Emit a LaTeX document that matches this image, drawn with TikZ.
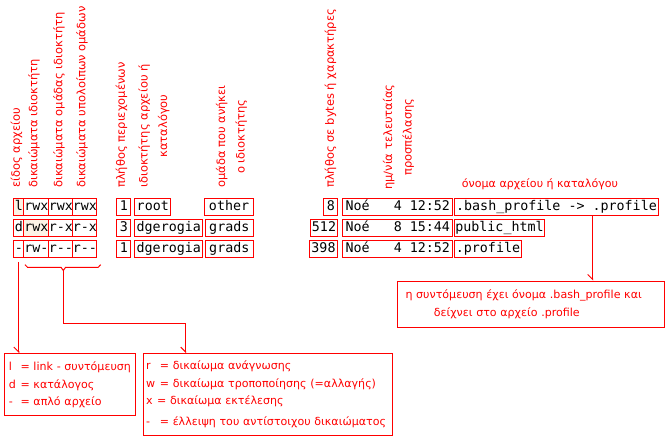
\documentclass[tikz,border=0pt]{standalone}
\usepackage{fontspec}
\setmainfont{DejaVu Sans}
\setmonofont{DejaVu Sans Mono}
\usetikzlibrary{arrows.meta,calc}
\definecolor{lr}{RGB}{255,0,0}
\definecolor{beige}{RGB}{253,243,230}
\begin{document}
\begin{tikzpicture}[x=0.75pt,y=-0.75pt,
 cell/.style={draw=lr, line width=0.75pt, font=\ttfamily\fontsize{10}{12}\selectfont, inner sep=0pt, minimum height=17*0.75pt, text height=7.3pt, text depth=2pt, anchor=west},
 cw/.style={minimum width=#1*0.75pt},
 vlab/.style={rotate=90, anchor=west, inner sep=0pt, text=lr, font=\fontsize{8.6}{14.6}\selectfont, align=center},
 legend/.style={draw=lr, line width=0.75pt, text=lr, font=\fontsize{8.3}{13.1}\selectfont, align=left, anchor=north west, inner ysep=0pt},
 conn/.style={draw=lr, line width=0.75pt, -{Straight Barb[harpoon, swap, length=3.75pt, width=7.5pt, line width=0.75pt]}},
 brk/.style={draw=lr, line width=0.75pt}
]
\useasboundingbox (0,0) rectangle (669,441);
% vertical headers
\node[vlab] (h1) at (16.5,188) {είδος αρχείου};
\node[vlab] (h2) at (34,188) {δικαιώματα ιδιοκτήτη};
\node[vlab] (h3) at (59,188) {δικαιώματα ομάδας ιδιοκτήτη};
\node[vlab] (h4) at (82,188) {δικαιώματα υπολοίπων ομάδων};
\node[vlab] (h5) at (121.5,188) {πλήθος περιεχομένων};
\node[vlab] (h6) at (154,188) {ιδιοκτήτης αρχείου ή\\καταλόγου};
\node[vlab] (h7) at (231.5,188) {ομάδα που ανήκει\\ο ιδιοκτήτης};
\node[vlab] (h8) at (330.5,188) {πλήθος σε bytes ή χαρακτήρες};
\node[vlab] (h9) at (398.5,190) {ημ/νία τελευταίας\\προσπέλασης};
\node[anchor=west, inner sep=0pt, text=lr, font=\fontsize{8.3}{10}\selectfont] (h10) at (461.7,184) {όνομα αρχείου ή καταλόγου};
% row 1
\node[cell,cw=10,fill=beige] (t1) at (13.3,207) {l};
\node[cell,cw=25] (o1) at (23.3,207) {rwx};
\node[cell,cw=24] (g1) at (48.3,207) {rwx};
\node[cell,cw=24] (e1) at (72.3,207) {rwx};
\node[cell,cw=14] (k1) at (116.3,207) {1};
\node[cell,cw=36] (u1) at (134.3,207) {root};
\node[cell,cw=48.5] (gr1) at (204.3,207) {other};
\node[cell,cw=14] (s1) at (323.3,207) {8};
\node[cell,cw=110] (d1) at (342.3,207) {Noé~~~4 12:52};
\node[cell,cw=204] (n1) at (454,207) {.bash\_profile -> .profile};
% row 2
\node[cell,cw=10] (t2) at (13.3,228) {d};
\node[cell,cw=25,fill=beige] (o2) at (23.3,228) {rwx};
\node[cell,cw=24] (g2) at (48.3,228) {r-x};
\node[cell,cw=24] (e2) at (72.3,228) {r-x};
\node[cell,cw=14] (k2) at (116.3,228) {3};
\node[cell,cw=68] (u2) at (134.3,228) {dgerogia};
\node[cell,cw=48] (gr2) at (204.8,228) {grads};
\node[cell,cw=27] (s2) at (310,228) {512};
\node[cell,cw=110] (d2) at (342.3,228) {Noé~~~8 15:44};
\node[cell,cw=90] (n2) at (454,228) {public\_html};
% row 3
\node[cell,cw=10] (t3) at (13.3,248.7) {-};
\node[cell,cw=25] (o3) at (23.3,248.7) {rw-};
\node[cell,cw=24] (g3) at (48.3,248.7) {r-\kern0pt-};
\node[cell,cw=24] (e3) at (72.3,248.7) {r-\kern0pt-};
\node[cell,cw=14] (k3) at (116.3,248.7) {1};
\node[cell,cw=68] (u3) at (134.3,248.7) {dgerogia};
\node[cell,cw=48] (gr3) at (204.8,248.7) {grads};
\node[cell,cw=28] (s3) at (309,248.7) {398};
\node[cell,cw=110] (d3) at (342.3,248.7) {Noé~~~4 12:52};
\node[cell,cw=67] (n3) at (454,248.7) {.profile};
% legend boxes
\node[legend, inner xsep=4*0.75pt, text width=123*0.75pt, minimum height=62*0.75pt] (b1) at (4.3,353.3)
 {\mbox{\makebox[8.8pt][l]{l}= link - συντόμευση}\\\mbox{\makebox[8.8pt][l]{d}= κατάλογος}\\\mbox{\makebox[8.8pt][l]{-}= απλό αρχείο}};
\node[legend, inner xsep=3*0.75pt, text width=243.6*0.75pt, minimum height=81.7*0.75pt] (b2) at (142.7,353.3)
 {\mbox{\makebox[10.2pt][l]{r}= δικαίωμα ανάγνωσης}\\\mbox{\makebox[10.2pt][l]{w}= δικαίωμα τροποποίησης (=αλλαγής)}\\\mbox{\makebox[8.2pt][l]{x}= δικαίωμα εκτέλεσης}\\[2.6pt]\mbox{\makebox[10.2pt][l]{-}= έλλειψη του αντίστοιχου δικαιώματος}};
\node[legend, inner xsep=7.7*0.75pt, text width=251.6*0.75pt, minimum height=46*0.75pt] (b3) at (397.3,280.7)
 {\mbox{η συντόμευση έχει όνομα .bash\_profile και}\\\mbox{\hspace*{21.2pt}δείχνει στο αρχείο .profile}};
% connectors
\coordinate (c1) at (t3.south |- 0,262);
\draw[conn] (c1) -- (c1 |- b1.north);
\draw[brk] (25,264.7) -- (27.5,267.3) -- (61,267.3) -- (63.3,270.5) -- (65.6,267.3) -- (98.2,267.3) -- (100.7,264.7);
\coordinate (bm) at (63.3,270.5);
\coordinate (el) at (185.7,323.3);
\draw[conn] (bm) |- (el) -- (el |- b2.north);
\coordinate (c3) at (592.7,0);
\draw[conn] (c3 |- n1.south) -- (c3 |- b3.north);
\end{tikzpicture}
\end{document}
